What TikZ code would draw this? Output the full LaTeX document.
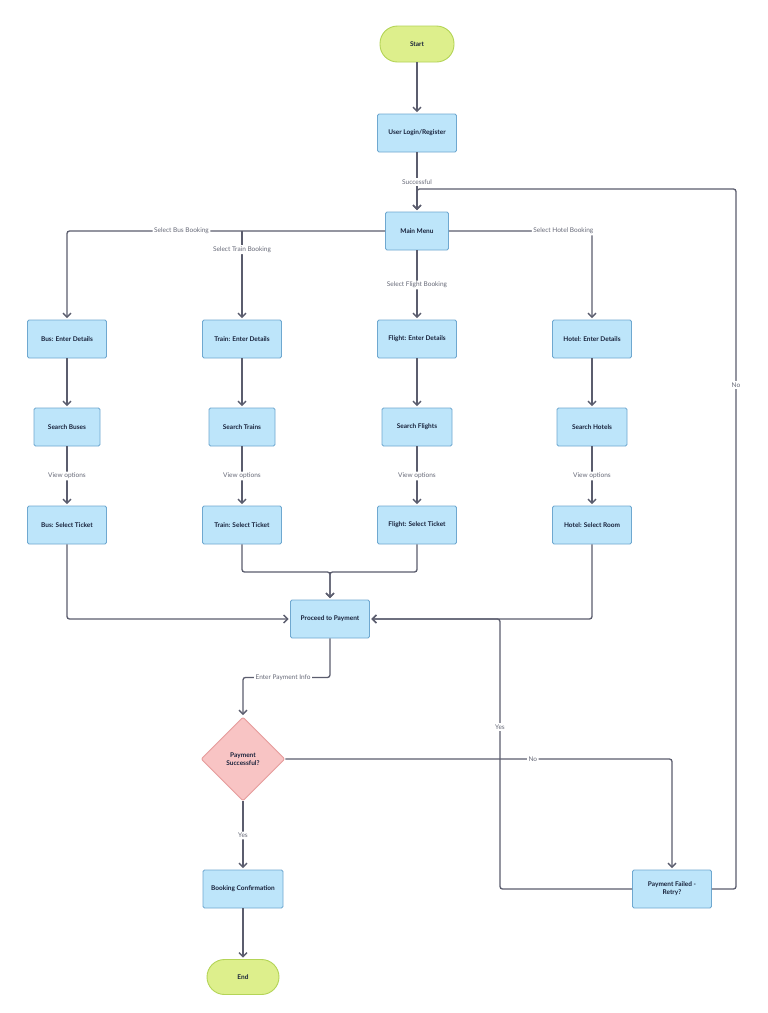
\documentclass[tikz,border=0pt]{standalone}
\usepackage{fontspec}
\setmainfont{Lato}
\usepackage{tikz}
\usetikzlibrary{arrows.meta, positioning, shapes.geometric}
\definecolor{boxfill}{HTML}{BDE5FA}
\definecolor{boxline}{HTML}{6FA8D0}
\definecolor{termfill}{HTML}{DDEF8C}
\definecolor{termline}{HTML}{B4D457}
\definecolor{decfill}{HTML}{F8C4C4}
\definecolor{decline}{HTML}{E69C9C}
\definecolor{flowline}{HTML}{5B5D6E}
\definecolor{labeltext}{HTML}{676A78}
\definecolor{nodetext}{HTML}{17213A}
\tikzset{
  process/.style={rectangle, rounded corners=1.5pt, draw=boxline, fill=boxfill, line width=0.9pt,
    minimum width=79pt, minimum height=38pt, inner sep=2pt, align=center,
    text=nodetext, font=\fontsize{6.5}{8}\selectfont\bfseries},
  terminal/.style={process, draw=termline, fill=termfill, rounded corners=17.5pt,
    minimum width=74pt, minimum height=36pt},
  decision/.style={diamond, draw=decline, fill=decfill, line width=0.9pt, rounded corners=2pt,
    minimum width=84pt, minimum height=84pt, inner sep=1pt, align=center,
    text=nodetext, font=\fontsize{6.5}{8}\selectfont\bfseries},
  flow/.style={draw=flowline, line width=1.3pt, rounded corners=2.5pt,
    shorten >=1.5pt, -{Straight Barb[length=4pt,width=8pt]}},
  lbl/.style={fill=white, text=labeltext, inner sep=1.5pt, font=\fontsize{6.5}{7}\selectfont}
}
\begin{document}
\begin{tikzpicture}[x=1pt, y=-1pt]
  \fill[white] (0,0) rectangle (768,1013);
  % top of the flow
  \node[terminal] (start) at (417,44) {Start};
  \node[process] (login) at (417,133) {User Login/Register};
  \node[process, minimum width=63pt] (menu) at (417,231) {Main Menu};
  % the four booking columns
  \node[process] (busdet) at (67,339) {Bus: Enter Details};
  \node[process] (traindet) at (242,339) {Train: Enter Details};
  \node[process] (flightdet) at (417,339) {Flight: Enter Details};
  \node[process] (hoteldet) at (592,339) {Hotel: Enter Details};
  \node[process, minimum width=66pt] (busfind) at (67,427) {Search Buses};
  \node[process, minimum width=66pt] (trainfind) at (242,427) {Search Trains};
  \node[process, minimum width=70pt] (flightfind) at (417,427) {Search Flights};
  \node[process, minimum width=70pt] (hotelfind) at (592,427) {Search Hotels};
  \node[process] (busselect) at (67,525) {Bus: Select Ticket};
  \node[process] (trainselect) at (242,525) {Train: Select Ticket};
  \node[process] (flightselect) at (417,525) {Flight: Select Ticket};
  \node[process] (hotelselect) at (592,525) {Hotel: Select Room};
  % payment part
  \node[process] (pay) at (330,619) {Proceed to Payment};
  \node[decision] (check) at (243,759) {Payment\\Successful?};
  \node[process, minimum width=80pt] (confirm) at (243,889) {Booking Confirmation};
  \node[process] (failed) at (672,889) {Payment Failed -\\Retry?};
  \node[terminal, minimum width=72pt, minimum height=35pt] (finish) at (243,977) {End};
  \coordinate (trainfork) at (242,231);
  \coordinate (merge) at (330,572);
  \coordinate (yesjoin) at (500,619);
  \coordinate (retrytop) at (736,189);

  \draw[flow] (start) -- (login);
  \draw[flow] (login) -- node[lbl]{Successful} (menu);
  \draw[flow] (menu.west) -| node[lbl, pos=0.32]{Select Bus Booking} (busdet.north);
  \draw[flow] (trainfork) -- node[lbl, pos=0.21]{Select Train Booking} (traindet.north);
  \draw[flow] (menu) -- node[lbl]{Select Flight Booking} (flightdet);
  \draw[flow] (menu.east) -| node[lbl, pos=0.4]{Select Hotel Booking} (hoteldet.north);
  \foreach \kind in {bus, train, flight, hotel}{
    \draw[flow] (\kind det) -- (\kind find);
    \draw[flow] (\kind find) -- node[lbl]{View options} (\kind select);
  }
  \draw[flow] (busselect.south) |- (pay.west);
  \draw[flow] (trainselect.south) |- (merge) -- (pay.north);
  \draw[flow] (flightselect.south) |- (merge) -- (pay.north);
  \draw[flow] (hotelselect.south) |- (pay.east);
  \draw[flow] (pay.south) -- ++(0,39) -| node[lbl, pos=0.27]{Enter Payment Info} (check.north);
  \draw[flow] (check.south) -- node[lbl]{Yes} (confirm.north);
  \draw[flow] (check.east) -| node[lbl, pos=0.32]{No} (failed.north);
  \draw[flow] (failed.west) -| node[lbl, pos=0.8]{Yes} (yesjoin) -- (pay.east);
  \draw[flow] (failed.east) -| node[lbl, pos=0.86]{No} (retrytop) -| (menu.north);
  \draw[flow] (confirm) -- (finish);
\end{tikzpicture}
\end{document}
